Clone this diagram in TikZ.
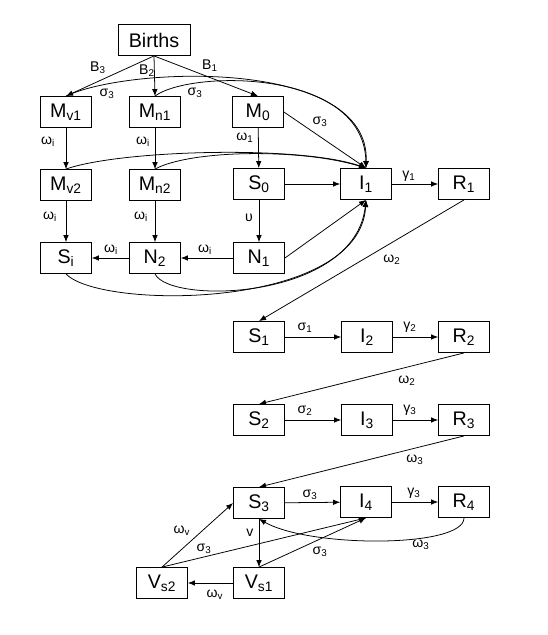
\documentclass[tikz,border=0pt]{standalone}
\usepackage{fontspec}
\setmainfont{Liberation Sans}
\usetikzlibrary{arrows.meta}

\tikzset{
  box/.style={draw, line width=0.6pt, minimum width=1.275cm, minimum height=0.775cm, inner sep=1pt, font=\fontsize{14}{16}\selectfont},
  flow/.style={-{Latex[length=5pt,width=4pt]}, line width=0.55pt},
  lab/.style={font=\fontsize{10}{12}\selectfont, inner sep=0pt}
}

\begin{document}
\begin{tikzpicture}[x=0.025cm,y=-0.025cm]
\useasboundingbox (0,0) rectangle (547,635);

% Compartments
\node[box, minimum width=1.8cm] (births) at (154,40) {Births};
\node[box] (mv1) at (66,112) {M\textsubscript{v1}};
\node[box] (mn1) at (155,112) {M\textsubscript{n1}};
\node[box] (m0) at (258,112) {M\textsubscript{0}};
\node[box] (mv2) at (66,185) {M\textsubscript{v2}};
\node[box] (mn2) at (155,185) {M\textsubscript{n2}};
\node[box] (s0) at (259,184) {S\textsubscript{0}};
\node[box] (i1) at (366,184) {I\textsubscript{1}};
\node[box] (r1) at (464,184) {R\textsubscript{1}};
\node[box] (si) at (66,258) {S\textsubscript{i}};
\node[box] (n2) at (155,258) {N\textsubscript{2}};
\node[box] (n1) at (259,258) {N\textsubscript{1}};
\node[box] (s1) at (259,337) {S\textsubscript{1}};
\node[box] (i2) at (367,337) {I\textsubscript{2}};
\node[box] (r2) at (464,337) {R\textsubscript{2}};
\node[box] (s2) at (259,420) {S\textsubscript{2}};
\node[box] (i3) at (367,420) {I\textsubscript{3}};
\node[box] (r3) at (464,420) {R\textsubscript{3}};
\node[box] (s3) at (259,503) {S\textsubscript{3}};
\node[box] (i4) at (366,502) {I\textsubscript{4}};
\node[box] (r4) at (464,502) {R\textsubscript{4}};
\node[box] (vs2) at (162,583) {V\textsubscript{s2}};
\node[box] (vs1) at (259,583) {V\textsubscript{s1}};

% Births
\draw[flow] (births.south) -- (mv1.north);
\draw[flow] (births.south) -- (mn1.north);
\draw[flow] (births.south) -- (m0.north);
\node[lab] at (98,68) {B\textsubscript{3}};
\node[lab] at (147,71) {B\textsubscript{2}};
\node[lab] at (210,66) {B\textsubscript{1}};

% Infection of the first block
\draw[flow] (mv1.north) .. controls (130,66) and (370,58) .. (i1.north);
\draw[flow] (mn1.north) .. controls (190,70) and (364,68) .. (i1.north);
\draw[flow] (m0.east) -- (i1.north);
\draw[flow] (mv2.north) .. controls (120,150) and (300,145) .. (i1.north);
\draw[flow] (mn2.north) .. controls (190,150) and (300,148) .. (i1.north);
\draw[flow] (s0) -- (i1);
\draw[flow] (n1.east) -- (i1.south);
\draw[flow] (si.south) .. controls (100,310) and (360,310) .. (i1.south);
\draw[flow] (n2.south) .. controls (170,305) and (355,300) .. (i1.south);
\node[lab] at (107,94) {σ\textsubscript{3}};
\node[lab] at (195,93) {σ\textsubscript{3}};
\node[lab] at (320,122) {σ\textsubscript{3}};

% Waning
\draw[flow] (mv1) -- (mv2);
\draw[flow] (mn1) -- (mn2);
\draw[flow] (m0) -- (s0);
\draw[flow] (mv2) -- (si);
\draw[flow] (mn2) -- (n2);
\draw[flow] (s0) -- (n1);
\draw[flow] (n2) -- (si);
\draw[flow] (n1) -- (n2);
\node[lab] at (48,142) {ω\textsubscript{i}};
\node[lab] at (143,142) {ω\textsubscript{i}};
\node[lab] at (245,138) {ω\textsubscript{1}};
\node[lab] at (50,217) {ω\textsubscript{i}};
\node[lab] at (141,217) {ω\textsubscript{i}};
\node[lab] at (249,218) {υ};
\node[lab] at (111,250) {ω\textsubscript{i}};
\node[lab] at (205,250) {ω\textsubscript{i}};

% Recovery and reinfection
\draw[flow] (i1) -- (r1);
\node[lab] at (409,176) {γ\textsubscript{1}};
\draw[flow] (r1.south) -- (s1.north);
\node[lab] at (392,260) {ω\textsubscript{2}};
\draw[flow] (s1) -- (i2);
\draw[flow] (i2) -- (r2);
\node[lab] at (305,328) {σ\textsubscript{1}};
\node[lab] at (410,327) {γ\textsubscript{2}};
\draw[flow] (r2.south) -- (s2.north);
\node[lab] at (407,381) {ω\textsubscript{2}};
\draw[flow] (s2) -- (i3);
\draw[flow] (i3) -- (r3);
\node[lab] at (305,411) {σ\textsubscript{2}};
\node[lab] at (410,410) {γ\textsubscript{3}};
\draw[flow] (r3.south) -- (s3.north);
\node[lab] at (415,460) {ω\textsubscript{3}};
\draw[flow] (s3) -- (i4);
\draw[flow] (i4) -- (r4);
\node[lab] at (310,495) {σ\textsubscript{3}};
\node[lab] at (414,493) {γ\textsubscript{3}};
\draw[flow] (r4.south) .. controls (464,548) and (310,548) .. (s3.south);
\node[lab] at (421,545) {ω\textsubscript{3}};

% Vaccination
\draw[flow] (s3) -- (vs1);
\draw[flow] (vs1) -- (vs2);
\draw[flow] (vs2.north) -- (s3.west);
\draw[flow] (vs2.north) -- (i4.south);
\draw[flow] (vs1.north) -- (i4.south);
\node[lab] at (250,533) {v};
\node[lab] at (182,531) {ω\textsubscript{v}};
\node[lab] at (204,549) {σ\textsubscript{3}};
\node[lab] at (320,552) {σ\textsubscript{3}};
\node[lab] at (215,595) {ω\textsubscript{v}};

\end{tikzpicture}
\end{document}
